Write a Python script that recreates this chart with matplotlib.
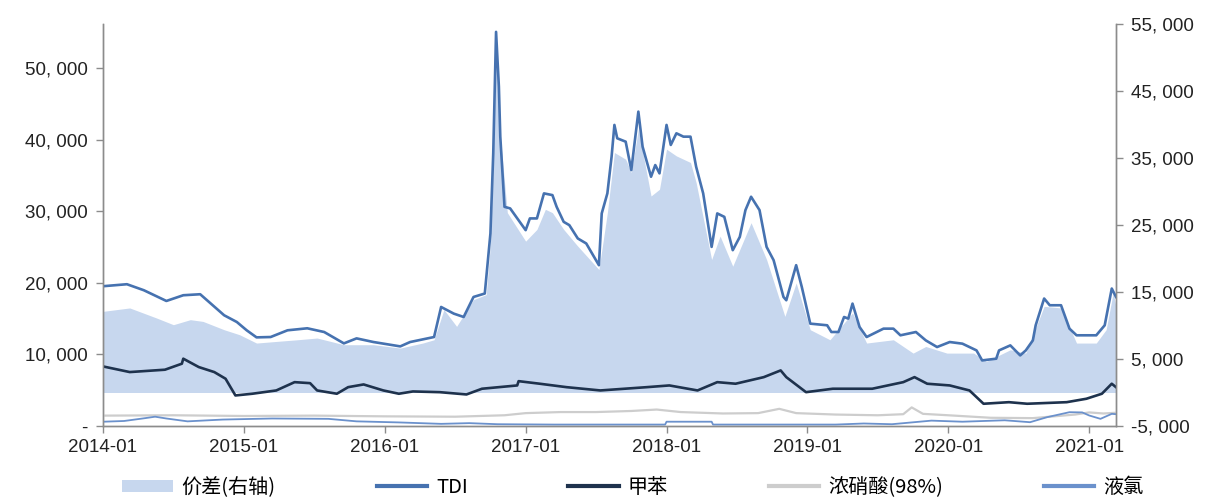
import numpy as np
import pandas as pd
import matplotlib
matplotlib.use("Agg")
import matplotlib.pyplot as plt
import matplotlib.dates as mdates
from matplotlib.ticker import FuncFormatter, FixedLocator
from matplotlib.patches import Patch
from matplotlib.lines import Line2D

plt.rcParams['font.family'] = ['Liberation Sans', 'Noto Sans CJK SC', 'DejaVu Sans']

# dates are decimal years
tdi_t = [2014.00, 2014.17, 2014.29, 2014.45, 2014.57, 2014.69, 2014.86, 2014.95, 2015.02, 2015.09,
         2015.19, 2015.31, 2015.45, 2015.57, 2015.71, 2015.80, 2015.92, 2016.11, 2016.18, 2016.35,
         2016.40, 2016.49, 2016.56, 2016.63, 2016.71, 2016.75, 2016.77, 2016.79, 2016.81, 2016.82,
         2016.85, 2016.89, 2017.00, 2017.03, 2017.08, 2017.13, 2017.19, 2017.22, 2017.27, 2017.31,
         2017.37, 2017.43, 2017.52, 2017.54, 2017.58, 2017.61, 2017.63, 2017.65, 2017.71, 2017.75,
         2017.80, 2017.83, 2017.89, 2017.92, 2017.95, 2018.00, 2018.03, 2018.07, 2018.12, 2018.17,
         2018.21, 2018.26, 2018.32, 2018.36, 2018.41, 2018.47, 2018.52, 2018.56, 2018.60, 2018.66,
         2018.71, 2018.76, 2018.83, 2018.85, 2018.92, 2018.96, 2019.02, 2019.14, 2019.17, 2019.22,
         2019.26, 2019.29, 2019.32, 2019.37, 2019.42, 2019.54, 2019.61, 2019.66, 2019.77, 2019.84,
         2019.92, 2020.01, 2020.10, 2020.20, 2020.24, 2020.34, 2020.36, 2020.44, 2020.51, 2020.55,
         2020.60, 2020.62, 2020.68, 2020.72, 2020.80, 2020.86, 2020.91, 2021.05, 2021.11, 2021.16,
         2021.19]
tdi = [19540, 19820, 18980, 17480, 18280, 18420, 15480, 14540, 13380, 12390,
       12440, 13380, 13660, 13140, 11550, 12250, 11740, 11130, 11740, 12440,
       16640, 15710, 15240, 18040, 18520, 26920, 38120, 55100, 47450, 40450,
       30640, 30420, 27380, 29020, 29020, 32520, 32280, 30640, 28540, 28080,
       26220, 25520, 22480, 29720, 32520, 37650, 42090, 40220, 39750, 35780,
       43950, 39050, 34850, 36480, 35320, 42090, 39290, 40920, 40450, 40450,
       36250, 32520, 25040, 29720, 29240, 24580, 26440, 30180, 32050, 30180,
       25040, 23180, 18040, 17580, 22480, 19440, 14310, 14080, 13140, 13140,
       15240, 15010, 17110, 13840, 12440, 13610, 13610, 12680, 13140, 11970,
       11040, 11740, 11510, 10570, 9170, 9410, 10570, 11270, 9870, 10570,
       11970, 14080, 17820, 16880, 16880, 13610, 12680, 12680, 14080, 19220,
       18040]

spread_t = [2014.00, 2014.19, 2014.38, 2014.50, 2014.62, 2014.71, 2014.86, 2014.97, 2015.09, 2015.23,
            2015.38, 2015.52, 2015.71, 2015.92, 2016.11, 2016.27, 2016.35, 2016.42, 2016.51, 2016.63,
            2016.72, 2016.75, 2016.77, 2016.79, 2016.81, 2016.82, 2016.87, 2017.00, 2017.08, 2017.14,
            2017.19, 2017.27, 2017.37, 2017.52, 2017.58, 2017.63, 2017.71, 2017.75, 2017.80, 2017.89,
            2017.95, 2018.00, 2018.07, 2018.17, 2018.21, 2018.32, 2018.38, 2018.47, 2018.60, 2018.71,
            2018.84, 2018.92, 2019.02, 2019.16, 2019.32, 2019.42, 2019.61, 2019.75, 2019.84, 2019.99,
            2020.18, 2020.27, 2020.44, 2020.55, 2020.68, 2020.80, 2020.91, 2021.05, 2021.12, 2021.17,
            2021.19]
spread = [12110, 12620, 11120, 10120, 10870, 10610, 9370, 8620, 7380, 7620,
          7870, 8130, 7130, 7130, 6630, 7380, 7870, 12370, 9870, 13860,
          14610, 22100, 34820, 52040, 43800, 38260, 26840, 22590, 24340, 27340,
          26840, 24340, 21840, 18350, 26840, 35820, 34820, 32830, 39310, 29330,
          30330, 36320, 35310, 34330, 31330, 19850, 23340, 18850, 25340, 19850,
          11360, 16360, 9370, 7870, 11870, 7380, 7870, 5880, 6870, 5880,
          5880, 4630, 6380, 5880, 12860, 12620, 7380, 7380, 9370, 14870,
          12860]

toluene_t = [2014.00, 2014.19, 2014.44, 2014.56, 2014.57, 2014.68, 2014.79, 2014.87, 2014.94, 2015.06,
             2015.23, 2015.36, 2015.47, 2015.52, 2015.66, 2015.74, 2015.85, 2015.99, 2016.10, 2016.20,
             2016.39, 2016.58, 2016.69, 2016.94, 2016.95, 2017.10, 2017.29, 2017.53, 2017.86, 2018.02,
             2018.22, 2018.36, 2018.49, 2018.69, 2018.81, 2018.85, 2018.99, 2019.18, 2019.46, 2019.68,
             2019.76, 2019.85, 2020.01, 2020.15, 2020.25, 2020.43, 2020.56, 2020.84, 2020.98, 2021.09,
             2021.16, 2021.19]
toluene = [8330, 7540, 7870, 8710, 9410, 8240, 7540, 6610, 4270, 4510,
           4970, 6130, 5990, 4970, 4510, 5430, 5810, 4970, 4510, 4830,
           4730, 4410, 5210, 5670, 6270, 5910, 5430, 4970, 5430, 5670,
           4970, 6130, 5910, 6830, 7770, 6830, 4730, 5210, 5210, 6130,
           6830, 5910, 5670, 4970, 3110, 3330, 3110, 3330, 3810, 4510,
           5910, 5430]

nitric_t = [2014.00, 2014.50, 2015.00, 2015.50, 2016.00, 2016.50, 2016.85, 2017.00, 2017.25, 2017.50,
            2017.75, 2017.93, 2018.10, 2018.40, 2018.65, 2018.80, 2018.92, 2019.20, 2019.50, 2019.68,
            2019.74, 2019.82, 2020.00, 2020.30, 2020.60, 2020.90, 2021.00, 2021.10, 2021.19]
nitric = [1450, 1500, 1400, 1450, 1350, 1300, 1500, 1800, 1950, 1950,
          2100, 2300, 1950, 1750, 1800, 2400, 1800, 1600, 1500, 1650,
          2600, 1700, 1500, 1150, 1100, 1600, 1900, 1750, 1850]

chlorine_t = [2014.00, 2014.15, 2014.30, 2014.37, 2014.45, 2014.60, 2014.85, 2015.20, 2015.60, 2015.80,
              2016.10, 2016.40, 2016.60, 2016.80, 2017.20, 2017.99, 2018.00, 2018.32, 2018.33, 2019.20,
              2019.40, 2019.60, 2019.88, 2020.10, 2020.40, 2020.58, 2020.70, 2020.86, 2020.95, 2021.00,
              2021.08, 2021.16, 2021.19]
chlorine = [600, 700, 1100, 1300, 1050, 650, 900, 1050, 1000, 650,
            500, 300, 400, 250, 200, 200, 600, 600, 200, 200,
            350, 250, 750, 600, 800, 530, 1230, 1930, 1900, 1470,
            1000, 1700, 1650]

years = list(range(2014, 2022))
left_ticks = [0, 10000, 20000, 30000, 40000, 50000]
right_ticks = [-5000, 5000, 15000, 25000, 35000, 45000, 55000]

labels = ['价差(右轴)', 'TDI', '甲苯', '浓硝酸(98%)', '液氯']
c_fill = '#C7D7EE'
c_tdi = '#4672B0'
c_tol = '#1E324D'
c_nit = '#CDCDCD'
c_cl = '#6B91CC'


def to_dates(ts):
    base = pd.Timestamp('2014-01-01')
    return [base + pd.Timedelta(days=(t - 2014) * 365.25) for t in ts]


def fmt(v, pos=None):
    if v == 0:
        return '-'
    return f"{v:,.0f}".replace(',', ', ')


fig = plt.figure(figsize=(12.1, 5.0), dpi=100)
ax = fig.add_axes([0.0851, 0.148, 0.8372, 0.804])
ax2 = ax.twinx()

# spread on the right axis, filled from zero
ax2.fill_between(to_dates(spread_t), 0, spread, color=c_fill, lw=0)

ax.plot(to_dates(tdi_t), tdi, color=c_tdi, lw=1.9)
ax.plot(to_dates(toluene_t), toluene, color=c_tol, lw=1.9)
ax.plot(to_dates(nitric_t), nitric, color=c_nit, lw=1.6)
ax.plot(to_dates(chlorine_t), chlorine, color=c_cl, lw=1.3)

ax.set_zorder(2)
ax2.set_zorder(1)
ax.patch.set_visible(False)

ax.set_xlim(to_dates([2014.0])[0], to_dates([2021.19])[0])
ax.set_ylim(0, 56200)
ax2.set_ylim(-5000, 55000)

ax.xaxis.set_major_locator(FixedLocator(mdates.date2num([pd.Timestamp(f'{y}-01-01') for y in years])))
ax.xaxis.set_major_formatter(mdates.DateFormatter('%Y-%m'))
ax.yaxis.set_major_locator(FixedLocator(left_ticks))
ax.yaxis.set_major_formatter(FuncFormatter(fmt))
ax2.yaxis.set_major_locator(FixedLocator(right_ticks))
ax2.yaxis.set_major_formatter(FuncFormatter(fmt))

for a in (ax, ax2):
    a.spines['top'].set_visible(False)
    for s in ('left', 'right', 'bottom'):
        a.spines[s].set_color('#8C8C8C')
        a.spines[s].set_linewidth(1.0)
    a.tick_params(axis='both', labelsize=13.5, colors='#8C8C8C', labelcolor='#222222',
                  length=5, width=1.0, direction='out', pad=6)
ax.tick_params(axis='x', pad=4)

handles = [Patch(facecolor=c_fill, edgecolor='none'),
           Line2D([], [], color=c_tdi, lw=3),
           Line2D([], [], color=c_tol, lw=3),
           Line2D([], [], color=c_nit, lw=3),
           Line2D([], [], color=c_cl, lw=3)]
fig.legend(handles, labels, loc='center', bbox_to_anchor=(0.523, 0.025), ncol=5, frameon=False,
           handlelength=2.5, handleheight=0.6, handletextpad=0.45, columnspacing=5.0,
           prop={'family': ['Noto Sans CJK SC', 'DejaVu Sans'], 'size': 14.5})

fig.savefig('out.png', dpi=100)
